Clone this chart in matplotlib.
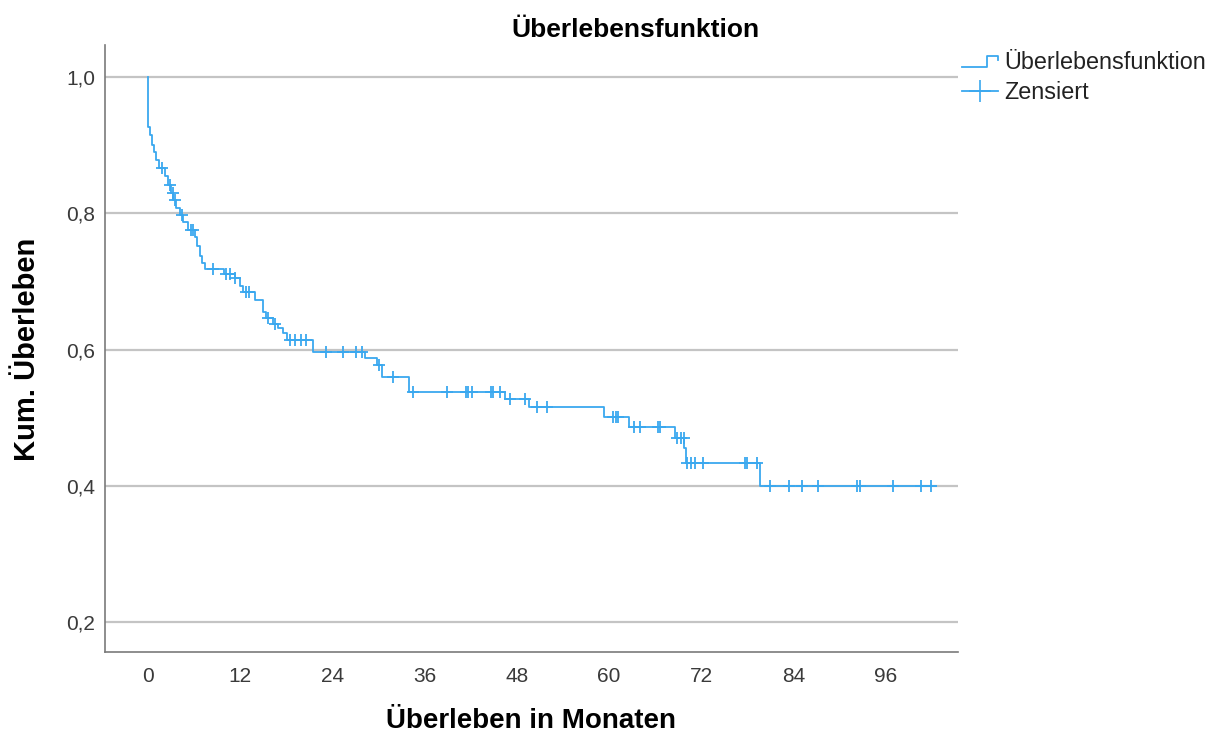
import numpy as np
import matplotlib
matplotlib.use("Agg")
import matplotlib.pyplot as plt
from matplotlib.lines import Line2D
from matplotlib.legend_handler import HandlerBase

plt.rcParams['font.family'] = ['Liberation Sans', 'DejaVu Sans']

# Kaplan-Meier step function: time of each step (months) and survival after it
step_times = [0.0, 0.05, 0.3, 0.5, 0.8, 1.1, 1.4, 2.2, 2.6, 3.0, 3.3, 3.7, 4.1,
              4.6, 5.2, 6.1, 6.4, 6.7, 7.0, 7.4, 9.9, 11.3, 12.0, 12.3, 13.9,
              15.0, 15.4, 16.2, 16.9, 17.5, 18.1, 21.5, 28.2, 29.8, 30.4, 33.9,
              46.5, 49.6, 59.3, 62.6, 68.6, 69.8, 70.0, 79.6]
step_surv = [1.0, 0.927, 0.915, 0.900, 0.890, 0.878, 0.866, 0.855, 0.842, 0.830,
             0.820, 0.808, 0.797, 0.787, 0.776, 0.765, 0.752, 0.738, 0.727, 0.718,
             0.711, 0.705, 0.693, 0.684, 0.673, 0.655, 0.647, 0.638, 0.631, 0.624,
             0.614, 0.597, 0.587, 0.578, 0.560, 0.538, 0.528, 0.515, 0.501, 0.487,
             0.470, 0.455, 0.433, 0.400]
end_time = 102.6

# Censored observations (months)
censor_times = [1.8, 2.9, 3.2, 3.5, 4.4, 5.6, 5.9, 8.5, 10.2, 10.7, 11.3, 12.8,
                13.2, 15.6, 16.5, 18.5, 19.1, 19.9, 20.6, 23.2, 25.4, 27.1, 27.9,
                30.0, 31.9, 34.5, 38.9, 41.4, 41.7, 42.2, 44.6, 44.9, 45.8, 47.1,
                49.0, 50.6, 51.9, 60.5, 60.9, 61.2, 63.3, 64.0, 66.4, 66.6, 68.8,
                69.4, 69.7, 70.1, 70.6, 71.2, 72.2, 77.7, 78.0, 79.2, 80.9, 83.4,
                85.1, 87.2, 92.3, 92.7, 97.0, 100.6, 101.9]

x_ticks = [0, 12, 24, 36, 48, 60, 72, 84, 96]
y_ticks = [0.2, 0.4, 0.6, 0.8, 1.0]

line_color = '#3aa8ef'
grid_color = '#c4c4c4'

W, H = 1215, 735
fig = plt.figure(figsize=(W / 100, H / 100), dpi=100)
ax = fig.add_axes([105 / W, 1 - 652 / H, (958 - 105) / W, (652 - 45) / H])

# step curve
xs = list(step_times) + [end_time]
ys = list(step_surv) + [step_surv[-1]]
ax.step(xs, ys, where='post', color=line_color, lw=1.3, zorder=3)

# censor marks sit on the curve
idx = np.searchsorted(step_times, censor_times, side='right') - 1
cens_y = np.array(step_surv)[idx]
ax.plot(censor_times, cens_y, linestyle='none', marker='+', markersize=9,
        markeredgewidth=1.3, color=line_color, zorder=4)

ax.set_xlim(-5.6, 105.4)
ax.set_ylim(0.156, 1.047)
ax.set_xticks(x_ticks)
ax.set_xticklabels([str(t) for t in x_ticks])
ax.set_yticks(y_ticks)
ax.set_yticklabels([f"{v:.1f}".replace('.', ',') for v in y_ticks])
ax.tick_params(length=0, labelsize=15, colors='#3a3a3a')
ax.tick_params(axis='y', pad=7)
ax.tick_params(axis='x', pad=11)
ax.yaxis.grid(True, color=grid_color, lw=1.6, zorder=1)
ax.set_axisbelow(True)
for s in ['top', 'right']:
    ax.spines[s].set_visible(False)
for s in ['left', 'bottom']:
    ax.spines[s].set_color('#7a7a7a')
    ax.spines[s].set_linewidth(1.2)

fig.text(635 / W, 1 - 37 / H, 'Überlebensfunktion', fontsize=19,
         fontweight='bold', ha='center', va='baseline')
fig.text(531 / W, 1 - 728 / H, 'Überleben in Monaten', fontsize=20,
         fontweight='bold', ha='center', va='baseline')
fig.text(27 / W, 1 - 349 / H, 'Kum. Überleben', fontsize=21,
         fontweight='bold', ha='center', va='center', rotation=90)


class StepHandler(HandlerBase):
    def create_artists(self, legend, orig_handle, xdescent, ydescent,
                       width, height, fontsize, trans):
        w, h = width, height
        x = np.array([0, 0.7, 0.7, 1.0, 1.0]) * w - xdescent
        y = np.array([0.12, 0.12, 0.82, 0.82, 0.55]) * h - ydescent
        ln = Line2D(x, y, color=orig_handle.get_color(), lw=1.3, transform=trans)
        return [ln]


h_step = Line2D([], [], color=line_color)
h_cens = Line2D([], [], color=line_color, marker='+', markersize=16,
                markeredgewidth=1.2, lw=1.3)
leg = fig.legend([h_step, h_cens], ['Überlebensfunktion', 'Zensiert'],
                 handler_map={h_step: StepHandler()},
                 loc='upper left', bbox_to_anchor=(962 / W, 1 - 51 / H),
                 frameon=False, fontsize=16.8, handlelength=1.55,
                 handletextpad=0.25, labelspacing=0.32, borderpad=0,
                 borderaxespad=0)
for t in leg.get_texts():
    t.set_color('#222222')

fig.savefig('out.png', dpi=100)
